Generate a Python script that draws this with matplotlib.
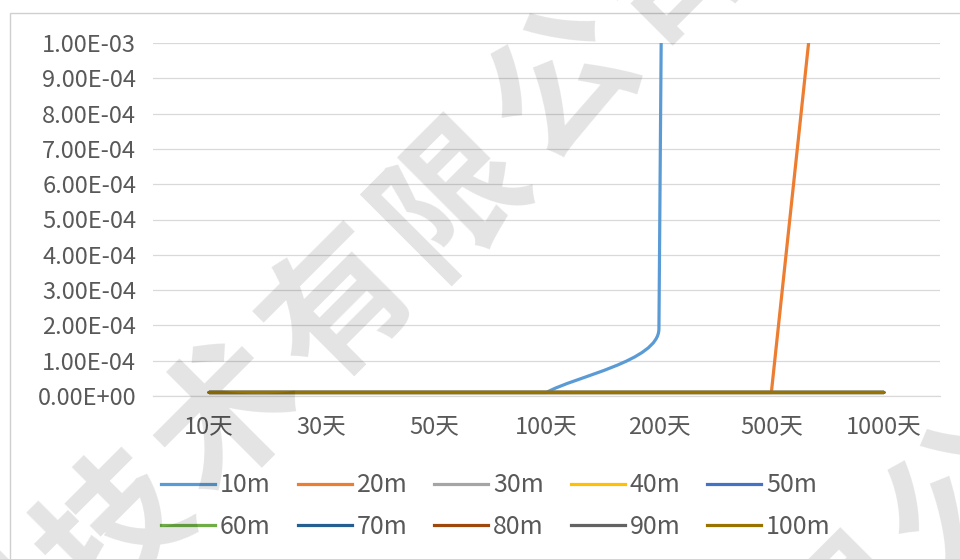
import numpy as np
import matplotlib
matplotlib.use("Agg")
import matplotlib.pyplot as plt
from matplotlib.path import Path
from matplotlib.patches import PathPatch, Rectangle
from matplotlib.lines import Line2D
from matplotlib.ticker import FuncFormatter

plt.rcParams['font.family'] = ['Noto Sans CJK SC', 'DejaVu Sans']

# categories (elapsed time)
days = ['10天', '30天', '50天', '100天', '200天', '500天', '1000天']

# one series per depth
depths = ['10m', '20m', '30m', '40m', '50m', '60m', '70m', '80m', '90m', '100m']
s_10m = [1e-5, 1e-5, 1e-5, 1e-5, 1.9e-4, 8e-2, 1.5e-1]
s_20m = [1e-5, 1e-5, 1e-5, 1e-5, 1e-5, 1e-5, 3.0e-3]
s_30m = [1e-5, 1e-5, 1e-5, 1e-5, 1e-5, 1e-5, 1e-5]
s_40m = [1e-5, 1e-5, 1e-5, 1e-5, 1e-5, 1e-5, 1e-5]
s_50m = [1e-5, 1e-5, 1e-5, 1e-5, 1e-5, 1e-5, 1e-5]
s_60m = [1e-5, 1e-5, 1e-5, 1e-5, 1e-5, 1e-5, 1e-5]
s_70m = [1e-5, 1e-5, 1e-5, 1e-5, 1e-5, 1e-5, 1e-5]
s_80m = [1e-5, 1e-5, 1e-5, 1e-5, 1e-5, 1e-5, 1e-5]
s_90m = [1e-5, 1e-5, 1e-5, 1e-5, 1e-5, 1e-5, 1e-5]
s_100m = [1e-5, 1e-5, 1e-5, 1e-5, 1e-5, 1e-5, 1e-5]
series = [s_10m, s_20m, s_30m, s_40m, s_50m, s_60m, s_70m, s_80m, s_90m, s_100m]

colors = ['#5B9BD5', '#ED7D31', '#A5A5A5', '#FFC000', '#4472C4',
          '#70AD47', '#255E91', '#9E480E', '#636363', '#997300']

y_ticks = np.arange(0, 11) * 1e-4

W, H = 960, 559
fig = plt.figure(figsize=(W / 100, H / 100), dpi=100)
fig.patch.set_facecolor('white')

# chart frame (only top/left edges fall inside the image)
fig.add_artist(Rectangle((10 / W, -0.1), 1.2, (H - 13) / H + 0.1,
                         transform=fig.transFigure, fill=False,
                         edgecolor='#D0D0D0', lw=1.0))

ax = fig.add_axes([153 / W, 1 - 396 / H, (940 - 153) / W, (396 - 43) / H])
ax.set_xlim(-0.5, len(days) - 0.5)
ax.set_ylim(0, 1e-3)
ax.set_yticks(y_ticks)
ax.yaxis.set_major_formatter(FuncFormatter(lambda v, _: f"{v:.2E}"))
ax.set_xticks(range(len(days)))
ax.set_xticklabels(days)
ax.tick_params(axis='both', length=0, labelsize=17, colors='#595959')
ax.tick_params(axis='y', pad=12)
ax.tick_params(axis='x', pad=14)
ax.grid(axis='y', color='#D9D9D9', lw=0.9)
ax.set_axisbelow(True)
for side in ['left', 'right', 'top']:
    ax.spines[side].set_visible(False)
ax.spines['bottom'].set_color('#D9D9D9')
ax.spines['bottom'].set_linewidth(0.9)


def unit(v):
    n = np.hypot(v[0], v[1])
    return v / n if n > 0 else v * 0


def smooth_path(xs, ys, k=0.25):
    # smoothed line drawn as cubic beziers in screen space;
    # flat stretches stay straight so there is no overshoot
    pts = ax.transData.transform(np.column_stack([xs, ys]))
    n = len(pts)
    flat = [ys[i] == ys[i + 1] for i in range(n - 1)]
    tang = []
    for i in range(n):
        left = i > 0 and not flat[i - 1]
        right = i < n - 1 and not flat[i]
        if left and right:
            tang.append(unit(pts[i + 1] - pts[i - 1]))
        elif right:
            tang.append(unit(pts[i + 1] - pts[i]))
        elif left:
            tang.append(unit(pts[i] - pts[i - 1]))
        else:
            tang.append(np.array([1.0, 0.0]))
    verts = [pts[0]]
    codes = [Path.MOVETO]
    for i in range(n - 1):
        p1, p2 = pts[i], pts[i + 1]
        seg = np.hypot(*(p2 - p1))
        if flat[i]:
            c1, c2 = p1, p2
        else:
            c1 = p1 + tang[i] * seg * k
            c2 = p2 - tang[i + 1] * seg * k
        verts += [c1, c2, p2]
        codes += [Path.CURVE4] * 3
    verts = ax.transData.inverted().transform(np.array(verts))
    return Path(verts, codes)


x = np.arange(len(days))
handles = []
for i, (name, vals, c) in enumerate(zip(depths, series, colors)):
    patch = PathPatch(smooth_path(x, vals), fill=False, edgecolor=c, lw=2.3,
                      capstyle='round', joinstyle='round', zorder=2 + i * 0.01)
    ax.add_patch(patch)
    handles.append(Line2D([], [], color=c, lw=2.3, label=name))

# legend fills column by column, so interleave to read row by row
order = [0, 5, 1, 6, 2, 7, 3, 8, 4, 9]
fig.legend(handles=[handles[i] for i in order], loc='center', ncol=5,
           bbox_to_anchor=(496 / W, 1 - 506 / H), frameon=False,
           fontsize=18, labelcolor='#595959', handlelength=2.15,
           handletextpad=0.2, columnspacing=1.08, labelspacing=0.62)

# diagonal watermark
wm_chars = '测技术有限公司'
start = np.array([5, 644])
step = np.array([112, -112])
for j, ch in enumerate(wm_chars):
    px, py = start + step * j
    fig.text(px / W, 1 - py / H, ch, rotation=45, ha='center', va='center',
             fontsize=104, fontweight='bold', color='black', alpha=0.11,
             zorder=10)
# second repeat of the watermark, lower right
for j, ch in enumerate('限公司'):
    px, py = np.array([850, 612]) + step * j
    fig.text(px / W, 1 - py / H, ch, rotation=45, ha='center', va='center',
             fontsize=104, fontweight='bold', color='black', alpha=0.11,
             zorder=10)

fig.savefig('out.png', dpi=100)
